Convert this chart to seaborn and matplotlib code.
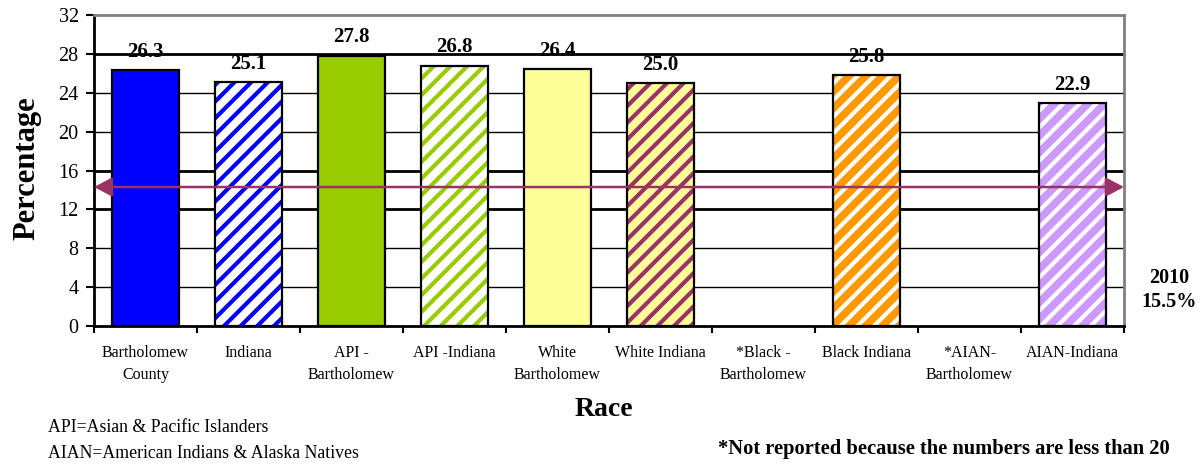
import numpy as np
import pandas as pd
import matplotlib
matplotlib.use("Agg")
import matplotlib.pyplot as plt
from matplotlib.patches import Rectangle
import seaborn as sns

# ---- data -------------------------------------------------------------
categories = [
    "Bartholomew\nCounty", "Indiana", "API -\nBartholomew", "API -Indiana",
    "White\nBartholomew", "White Indiana", "*Black -\nBartholomew",
    "Black Indiana", "*AIAN-\nBartholomew", "AIAN-Indiana",
]
values = [26.3, 25.1, 27.8, 26.8, 26.4, 25.0, np.nan, 25.8, np.nan, 22.9]
target_value = 14.3
target_label = "2010\n15.5%"
y_ticks = [0, 4, 8, 12, 16, 20, 24, 28, 32]

# fill colour, hatch colour (None = solid)
face_colors = ["#0000FF", "#FFFFFF", "#99CC00", "#FFFFFF", "#FFFF99",
               "#FFFF99", "#FFFFFF", "#FF9900", "#FFFFFF", "#CC99FF"]
hatch_colors = [None, "#0000FF", None, "#99CC00", None,
                "#993366", None, "#FFFFFF", None, "#FFFFFF"]

df = pd.DataFrame({"Race": categories, "Percentage": values})

# ---- style ------------------------------------------------------------
sns.set_style("white")
plt.rcParams["font.family"] = ["Liberation Serif", "DejaVu Serif"]
plt.rcParams["hatch.linewidth"] = 3.0
for key in ("text.color", "axes.labelcolor", "xtick.color", "ytick.color"):
    plt.rcParams[key] = "black"

fig = plt.figure(figsize=(12.04, 4.66), dpi=100)
ax = fig.add_axes([94 / 1204, 1 - 326 / 466, 1030 / 1204, 311 / 466])

sns.barplot(data=df, x="Race", y="Percentage", order=categories,
            color="#FFFFFF", width=0.66, ax=ax, zorder=3, errorbar=None)

for p in list(ax.patches):
    h = p.get_height()
    if not np.isfinite(h) or h == 0:
        continue
    idx = int(round(p.get_x() + p.get_width() / 2))
    hc = hatch_colors[idx]
    p.set_facecolor(face_colors[idx])
    if hc is None:
        p.set_edgecolor("black")
        p.set_linewidth(1.6)
    else:
        p.set_edgecolor(hc)
        p.set_hatch("//")
        p.set_linewidth(0)
        outline = Rectangle((p.get_x(), p.get_y()), p.get_width(), h,
                            fill=False, edgecolor="black", linewidth=1.6,
                            zorder=3.5)
        ax.add_patch(outline)
    ax.annotate(f"{h:.1f}", (p.get_x() + p.get_width() / 2, h),
                xytext=(0, 6), textcoords="offset points", ha="center",
                va="bottom", fontsize=15, fontweight="bold", zorder=5)

# horizontal reference lines
for t in y_ticks[1:-1]:
    lw = 2.0 if t in (12, 16, 28) else 1.0
    ax.axhline(t, color="black", linewidth=lw, zorder=1)

# target line with arrowheads at both ends
ax.annotate("", xy=(1.0, target_value), xytext=(0.0, target_value),
            xycoords=("axes fraction", "data"),
            textcoords=("axes fraction", "data"),
            arrowprops=dict(arrowstyle="<|-|>,head_length=1.1,head_width=0.58",
                            color="#993366", lw=1.8, shrinkA=0, shrinkB=0),
            zorder=6)

ax.set_ylim(0, 32)
ax.set_xlim(-0.5, len(categories) - 0.5)
ax.set_yticks(y_ticks)
ax.set_yticklabels([str(t) for t in y_ticks], fontsize=14.5)
ax.set_xticks(range(len(categories)))
ax.set_xticklabels(categories, fontsize=11.5, linespacing=1.5, va="top")
ax.set_xticks(np.arange(-0.5, len(categories), 1.0), minor=True)
ax.tick_params(axis="x", which="major", length=0, pad=14)
ax.tick_params(axis="x", which="minor", length=5, width=1.5, color="black",
               direction="out", bottom=True)
ax.tick_params(axis="y", length=6, width=1.5, color="black", direction="out",
               left=True, pad=5)
ax.set_xlabel("")
ax.set_ylabel("")

for side in ("left", "bottom"):
    ax.spines[side].set_color("black")
    ax.spines[side].set_linewidth(2.0)
for side in ("top", "right"):
    ax.spines[side].set_visible(True)
    ax.spines[side].set_color("#808080")
    ax.spines[side].set_linewidth(2.0)

fig.text(27 / 1204, 1 - 168 / 466, "Percentage", rotation=90, ha="center",
         va="center", fontsize=22, fontweight="bold")
fig.text(604 / 1204, 1 - 410 / 466, "Race", ha="center", va="center",
         fontsize=20, fontweight="bold")
fig.text(1169 / 1204, 1 - 290 / 466, target_label, ha="center", va="center",
         fontsize=14.5, fontweight="bold", linespacing=1.25)
fig.text(48 / 1204, 1 - 427 / 466, "API=Asian & Pacific Islanders",
         ha="left", va="center", fontsize=12.8)
fig.text(48 / 1204, 1 - 453 / 466, "AIAN=American Indians & Alaska Natives",
         ha="left", va="center", fontsize=12.8)
fig.text(1170 / 1204, 1 - 449 / 466,
         "*Not reported because the numbers are less than 20",
         ha="right", va="center", fontsize=14.8, fontweight="bold")

fig.savefig("out.png", dpi=100, facecolor="white")
